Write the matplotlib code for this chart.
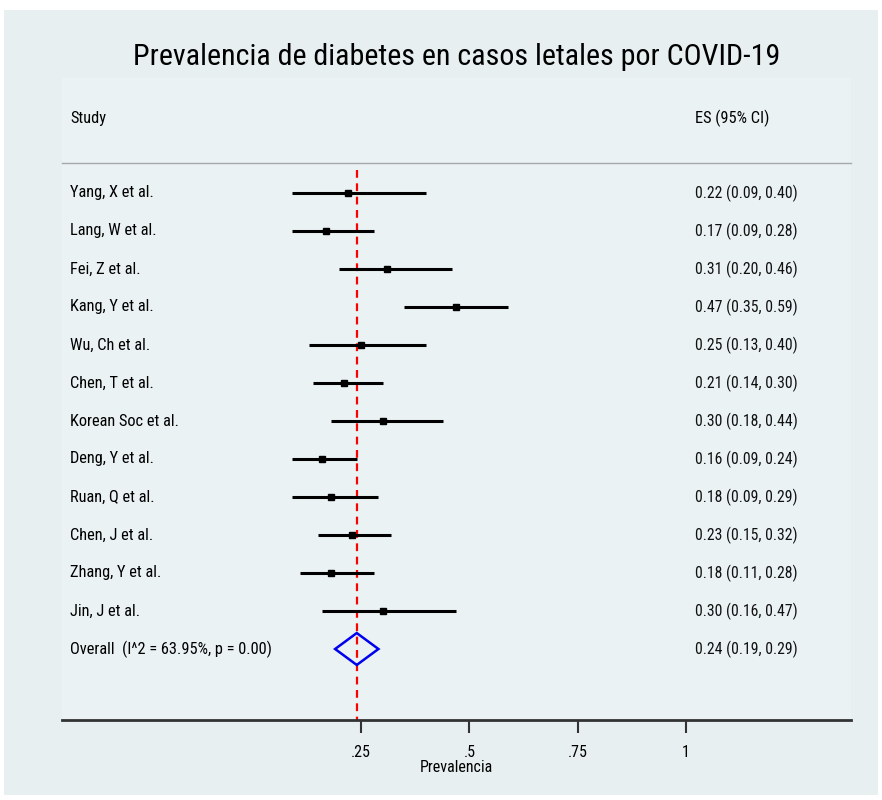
import matplotlib
matplotlib.use('Agg')
import matplotlib.pyplot as plt
from matplotlib.patches import Rectangle, Polygon
import matplotlib.transforms as mtransforms

plt.rcParams['font.family'] = ['Liberation Sans Narrow', 'Arial Narrow', 'Nimbus Sans Narrow',
                               'Roboto Condensed', 'Archivo Narrow', 'Liberation Sans', 'DejaVu Sans']

studies = ["Yang, X et al.", "Lang, W et al.", "Fei, Z et al.", "Kang, Y et al.",
           "Wu, Ch et al.", "Chen, T et al.", "Korean Soc et al.", "Deng, Y et al.",
           "Ruan, Q et al.", "Chen, J et al.", "Zhang, Y et al.", "Jin, J et al."]
es = [0.22, 0.17, 0.31, 0.47, 0.25, 0.21, 0.30, 0.16, 0.18, 0.23, 0.18, 0.30]
lo = [0.09, 0.09, 0.20, 0.35, 0.13, 0.14, 0.18, 0.09, 0.09, 0.15, 0.11, 0.16]
hi = [0.40, 0.28, 0.46, 0.59, 0.40, 0.30, 0.44, 0.24, 0.29, 0.32, 0.28, 0.47]
overall_label = "Overall  (I^2 = 63.95%, p = 0.00)"
overall = (0.24, 0.19, 0.29)
xticks = [0.25, 0.5, 0.75, 1]
xticklabels = [".25", ".5", ".75", "1"]

W, H = 882, 800
fig = plt.figure(figsize=(W / 100, H / 100), dpi=100)
fig.patch.set_facecolor('white')

def fx(px):
    return px / W

def fy(py):
    return 1 - py / H

# outer graph region and inner plot region
fig.patches.append(Rectangle((fx(4), fy(795)), fx(874), (795 - 10) / H,
                             transform=fig.transFigure, facecolor='#E7EFF1',
                             edgecolor='none', zorder=-2))
fig.patches.append(Rectangle((fx(62), fy(720)), fx(789), (720 - 78) / H,
                             transform=fig.transFigure, facecolor='#EAF2F3',
                             edgecolor='none', zorder=-1))

ax = fig.add_axes([fx(62), fy(720), fx(789), (720 - 163) / H])
ax.set_facecolor('none')
row_px = 38.0
ax.set_xlim(-0.4405, 1.381)
ax.set_ylim((720 - 193) / row_px, (163 - 193) / row_px)

for s in ['left', 'right']:
    ax.spines[s].set_visible(False)
ax.spines['bottom'].set_color('#333333')
ax.spines['bottom'].set_linewidth(2)
ax.spines['top'].set_color('#A8A8A8')
ax.spines['top'].set_linewidth(1)
ax.set_yticks([])
ax.set_xticks(xticks)
ax.set_xticklabels(xticklabels, fontsize=11.5)
ax.tick_params(axis='x', length=9, width=1.5, color='#333333', pad=9)
ax.set_xlabel("Prevalencia", fontsize=11.5, labelpad=0)

# reference line at overall estimate
ax.plot([overall[0], overall[0]], [-0.6, 14], color='red', lw=1.6,
        ls=(0, (3.5, 2.5)), zorder=1)

rows = list(range(len(studies)))
ax.hlines(rows, lo, hi, color='black', lw=2.2, zorder=2)
ax.plot(es, rows, ls='none', marker='s', ms=4.6, color='black', zorder=3)

yo = len(studies)
dia = Polygon([(overall[1], yo), (overall[0], yo - 0.42), (overall[2], yo),
               (overall[0], yo + 0.42)], closed=True, fill=False,
              edgecolor='#0000EE', lw=1.8, zorder=3)
ax.add_patch(dia)

trans = mtransforms.blended_transform_factory(ax.transAxes, ax.transData)
lx = (70 - 62) / 789
rx = (695 - 62) / 789
for i, name in enumerate(studies):
    ax.text(lx, i, name, transform=trans, va='center', ha='left', fontsize=11.8)
    ax.text(rx, i, "%.2f (%.2f, %.2f)" % (es[i], lo[i], hi[i]), transform=trans,
            va='center', ha='left', fontsize=11.3, color='#111111')
ax.text(lx, yo, overall_label, transform=trans, va='center', ha='left', fontsize=11.8)
ax.text(rx, yo, "%.2f (%.2f, %.2f)" % overall, transform=trans,
        va='center', ha='left', fontsize=11.3, color='#111111')

fig.text(fx(70), fy(118), "Study", va='center', ha='left', fontsize=11.8)
fig.text(fx(695), fy(118), "ES (95% CI)", va='center', ha='left', fontsize=11.8)
fig.text(fx(457), fy(57), "Prevalencia de diabetes en casos letales por COVID-19",
         va='center', ha='center', fontsize=21.6)

fig.savefig("out.png", dpi=100)
